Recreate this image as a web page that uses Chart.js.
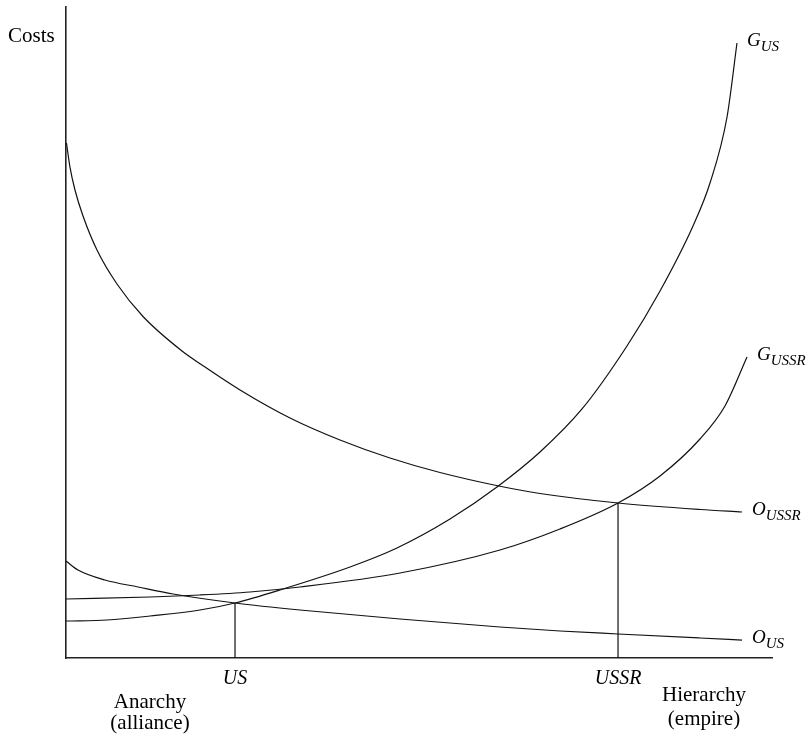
<!DOCTYPE html>
<html><head><meta charset="utf-8">
<script src="https://cdn.jsdelivr.net/npm/chart.js@4.4.1/dist/chart.umd.min.js"></script>
<style>html,body{margin:0;padding:0;background:#fff}#wrap{width:809px;height:734px;position:relative}</style>
</head><body><div id="wrap"><canvas id="c"></canvas></div>
<script>
// ---- data (x and y in 0-100 units) ----
const gUsX   = [0, 5.81, 11.90, 18.98, 23.94, 30.74, 40.23, 46.88, 54.39, 61.05, 67.14, 73.09, 79.46, 84.14, 88.81, 91.22, 93.63, 95.04];
const gUsY   = [5.68, 5.84, 6.45, 7.37, 8.45, 10.60, 13.98, 16.90, 21.35, 26.27, 31.64, 38.25, 47.93, 56.37, 66.36, 72.96, 83.10, 94.47];
const gUssrX = [0, 11.90, 18.98, 26.06, 33.14, 47.31, 61.47, 69.97, 78.19, 84.14, 89.80, 93.34, 96.46];
const gUssrY = [9.06, 9.37, 9.68, 10.14, 10.91, 13.06, 16.59, 19.82, 23.81, 27.96, 33.64, 38.71, 46.24];
const oUssrX = [0.07, 0.57, 1.27, 2.41, 4.39, 7.22, 10.91, 16.43, 19.26, 24.65, 31.73, 38.81, 45.89, 52.97, 61.47, 67.14, 78.19, 89.80, 95.75];
const oUssrY = [79.11, 75.35, 71.89, 67.90, 62.67, 57.45, 52.46, 47.16, 45.01, 41.17, 36.87, 33.49, 30.72, 28.49, 26.38, 25.27, 23.81, 22.81, 22.43];
const oUsX   = [0, 1.70, 5.52, 10.20, 15.16, 23.94, 33.14, 47.31, 61.47, 69.97, 78.19, 89.80, 95.75];
const oUsY   = [14.90, 13.52, 11.98, 10.91, 9.83, 8.45, 7.37, 5.99, 4.76, 4.15, 3.69, 3.07, 2.76];
const equilibriumX = [23.94, 78.19];
const equilibriumY = [8.45, 23.81];
const tickLabels = ['US', 'USSR'];
const curveNames = [['G', 'US'], ['G', 'USSR'], ['O', 'USSR'], ['O', 'US']];
const yAxisTitle = 'Costs';
const leftEndLabel = ['Anarchy', '(alliance)'];
const rightEndLabel = ['Hierarchy', '(empire)'];

const SERIF = '"Liberation Serif", "DejaVu Serif", serif';
const pts = (xs, ys) => xs.map((x, i) => ({x, y: ys[i]}));
const curve = (xs, ys, name) => ({
  label: name, data: pts(xs, ys), borderColor: '#111', borderWidth: 1.2,
  pointRadius: 0, cubicInterpolationMode: 'monotone', fill: false
});
const vline = (i) => ({
  label: 'eq' + i, data: [{x: equilibriumX[i], y: 0}, {x: equilibriumX[i], y: equilibriumY[i]}],
  borderColor: '#111', borderWidth: 1.2, pointRadius: 0, fill: false
});

const labelPlugin = {
  id: 'labels',
  afterDraw(chart) {
    const ctx = chart.ctx, ca = chart.chartArea;
    ctx.save();
    ctx.fillStyle = '#000';
    ctx.textBaseline = 'alphabetic';
    // y axis title
    ctx.textAlign = 'left';
    ctx.font = '21px ' + SERIF;
    ctx.fillText(yAxisTitle, 8, ca.top + 35);
    // curve end labels
    for (let d = 0; d < 4; d++) {
      const meta = chart.getDatasetMeta(d);
      const last = meta.data[meta.data.length - 1];
      const x = last.x + 10, y = last.y + 3;
      ctx.font = 'italic 19px ' + SERIF;
      ctx.fillText(curveNames[d][0], x, y);
      const w = ctx.measureText(curveNames[d][0]).width;
      ctx.font = 'italic 15px ' + SERIF;
      ctx.fillText(curveNames[d][1], x + w, y + 5);
    }
    // ends of the x axis
    ctx.textAlign = 'center';
    ctx.font = '21px ' + SERIF;
    ctx.fillText(leftEndLabel[0], ca.left + 84, ca.bottom + 50);
    ctx.fillText(leftEndLabel[1], ca.left + 84, ca.bottom + 71);
    ctx.fillText(rightEndLabel[0], ca.left + 638, ca.bottom + 43);
    ctx.fillText(rightEndLabel[1], ca.left + 638, ca.bottom + 67);
    ctx.restore();
  }
};

new Chart(document.getElementById('c'), {
  type: 'line',
  data: {
    datasets: [
      curve(gUsX, gUsY, 'G_US'),
      curve(gUssrX, gUssrY, 'G_USSR'),
      curve(oUssrX, oUssrY, 'O_USSR'),
      curve(oUsX, oUsY, 'O_US'),
      vline(0), vline(1)
    ]
  },
  options: {
    responsive: true, maintainAspectRatio: false, animation: false,
    layout: {padding: {left: 66, right: 37, top: 7, bottom: 36}},
    plugins: {legend: {display: false}, tooltip: {enabled: false}},
    scales: {
      x: {
        type: 'linear', min: 0, max: 100,
        grid: {display: false, drawTicks: false, tickLength: 0},
        border: {display: true, color: '#222', width: 1.6},
        afterBuildTicks: (scale) => { scale.ticks = equilibriumX.map(v => ({value: v})); },
        afterFit: (scale) => { scale.height = 40; },
        ticks: {
          autoSkip: false, padding: 9, color: '#000', maxRotation: 0,
          font: {family: SERIF, size: 20, style: 'italic'},
          callback: (v, i) => tickLabels[i]
        }
      },
      y: {
        type: 'linear', min: 0, max: 100,
        grid: {display: false, drawTicks: false, tickLength: 0},
        border: {display: true, color: '#222', width: 1.6},
        ticks: {display: false}
      }
    }
  },
  plugins: [labelPlugin]
});
</script></body></html>
